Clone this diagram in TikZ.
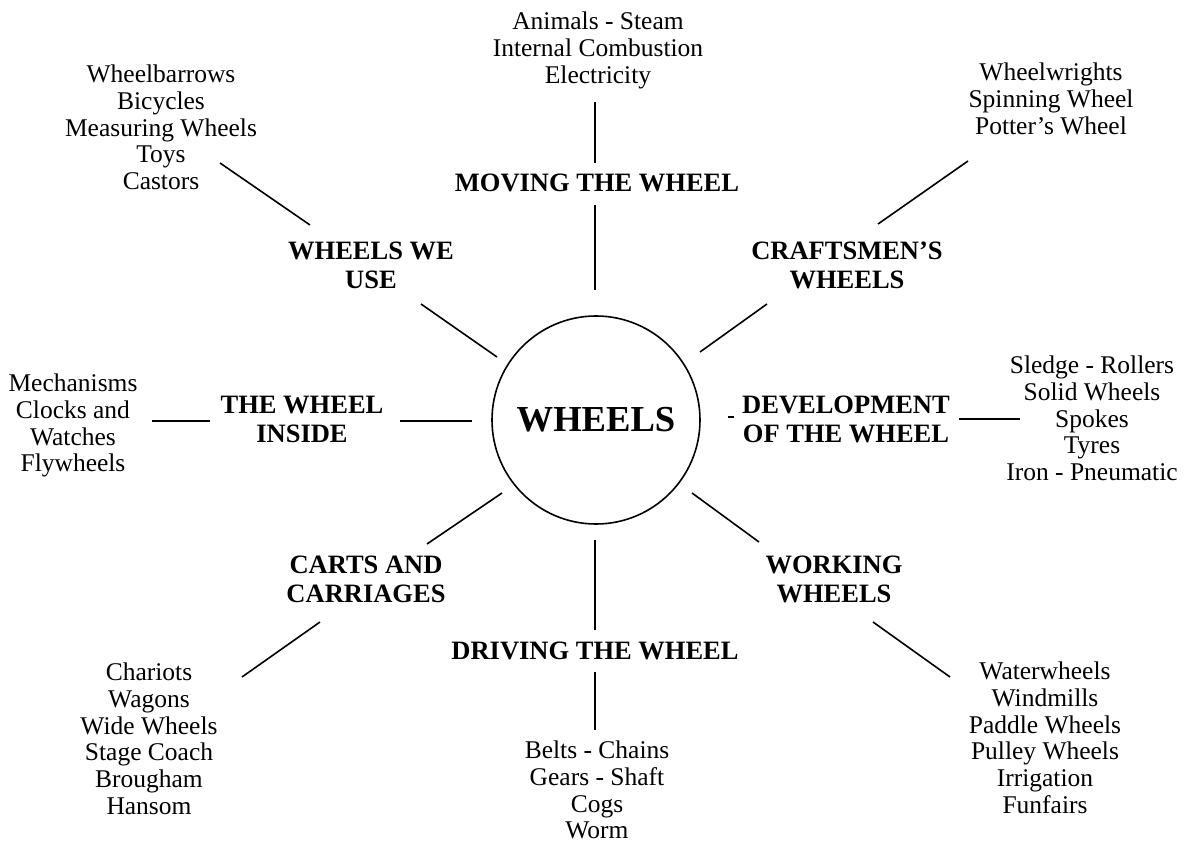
\documentclass[tikz,border=0pt]{standalone}
\usepackage{fontspec}
\setmainfont{Liberation Serif}
\begin{document}
\begin{tikzpicture}[x=1pt,y=-1pt,
  topic/.style={anchor=north,align=center,inner sep=0pt,font=\fontsize{26.5}{28.5}\selectfont\bfseries},
  items/.style={anchor=north,align=center,inner sep=0pt,font=\fontsize{25.5}{26.7}\selectfont},
  spoke/.style={line width=1.6pt}]
\useasboundingbox (0,0) rectangle (1195,842);
% the hub
\node[draw,circle,line width=1.6pt,minimum size=208pt,inner sep=0pt,
  font=\fontsize{36.6}{40}\selectfont\bfseries] (hub) at (596,420) {WHEELS};
% the eight topics
\node[topic] (moving) at (597,174) {MOVING THE WHEEL};
\node[topic] (use) at (371,242) {WHEELS WE\\USE};
\node[topic] (craft) at (847,242) {CRAFTSMEN'S\\WHEELS};
\node[topic] (inside) at (302,396) {THE WHEEL\\INSIDE};
\node[topic] (devel) at (846,396) {DEVELOPMENT\\OF THE WHEEL};
\node[topic] (carts) at (366,556) {CARTS AND\\CARRIAGES};
\node[topic] (working) at (834,556) {WORKING\\WHEELS};
\node[topic] (driving) at (595,642) {DRIVING THE WHEEL};
% lists at the outer ends
\node[items] (movingL) at (598,12) {Animals - Steam\\Internal Combustion\\Electricity};
\node[items] (useL) at (161,65) {Wheelbarrows\\Bicycles\\Measuring Wheels\\Toys\\Castors};
\node[items] (craftL) at (1051,63) {Wheelwrights\\Spinning Wheel\\Potter's Wheel};
\node[items] (insideL) at (73,374) {Mechanisms\\Clocks and\\Watches\\Flywheels};
\node[items] (develL) at (1092,356) {Sledge - Rollers\\Solid Wheels\\Spokes\\Tyres\\Iron - Pneumatic};
\node[items] (cartsL) at (149,663) {Chariots\\Wagons\\Wide Wheels\\Stage Coach\\Brougham\\Hansom};
\node[items] (workingL) at (1045,662) {Waterwheels\\Windmills\\Paddle Wheels\\Pulley Wheels\\Irrigation\\Funfairs};
\node[items] (drivingL) at (597,741) {Belts - Chains\\Gears - Shaft\\Cogs\\Worm};
% ends of the spokes
\coordinate (m1) at (595,102); \coordinate (m2) at (595,163);
\coordinate (m3) at (595,205); \coordinate (m4) at (595,290);
\coordinate (u1) at (220,163); \coordinate (u2) at (310,225);
\coordinate (u3) at (421,304); \coordinate (u4) at (497,357);
\coordinate (c1) at (968,161); \coordinate (c2) at (878,224);
\coordinate (c3) at (767,304); \coordinate (c4) at (700,352);
\coordinate (i1) at (152,421); \coordinate (i2) at (210,421);
\coordinate (i3) at (400,421); \coordinate (i4) at (472,421);
\coordinate (d1) at (728,417); \coordinate (d2) at (734,417);
\coordinate (d3) at (959,419); \coordinate (d4) at (1020,419);
\coordinate (k1) at (502,493); \coordinate (k2) at (427,544);
\coordinate (k3) at (320,622); \coordinate (k4) at (242,677);
\coordinate (w1) at (692,493); \coordinate (w2) at (759,542);
\coordinate (w3) at (873,622); \coordinate (w4) at (950,677);
\coordinate (r1) at (595,540); \coordinate (r2) at (595,630);
\coordinate (r3) at (595,672); \coordinate (r4) at (595,730);
\foreach \a/\b in {m1/m2,m3/m4,u1/u2,u3/u4,c1/c2,c3/c4,i1/i2,i3/i4,
  d1/d2,d3/d4,k1/k2,k3/k4,w1/w2,w3/w4,r1/r2,r3/r4}
  \draw[spoke] (\a) -- (\b);
\end{tikzpicture}
\end{document}
